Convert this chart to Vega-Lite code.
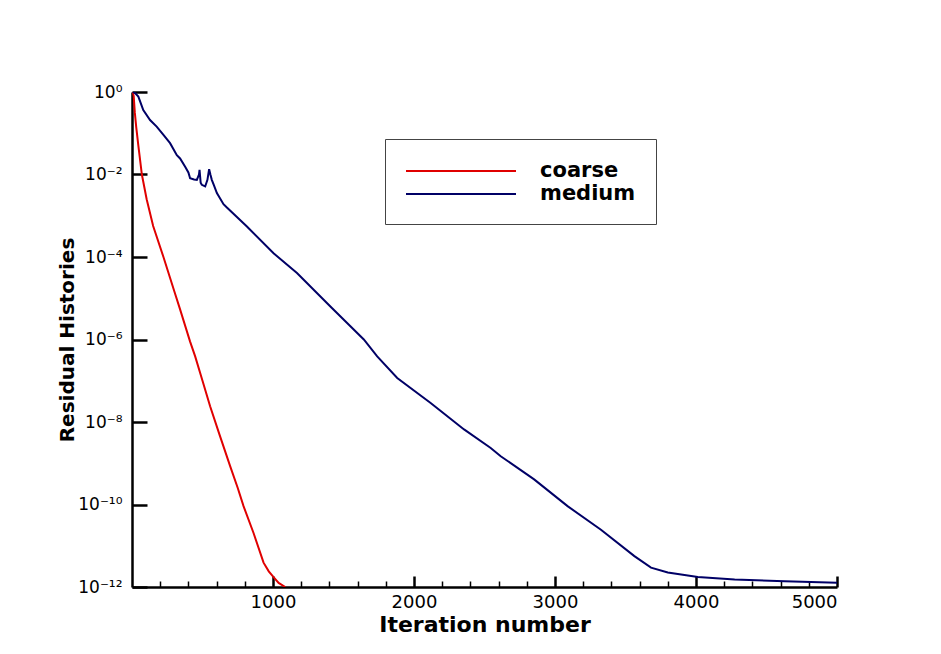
{
  "$schema": "https://vega.github.io/schema/vega-lite/v6.json",
  "width": 705,
  "height": 495,
  "autosize": {"type": "none"},
  "padding": {"left": 132, "top": 92, "right": 104, "bottom": 67},
  "background": "white",
  "config": {"view": {"stroke": null}},
  "data": {"values": [
    {"series": "coarse", "iter": 5, "res": 1},
    {"series": "coarse", "iter": 12, "res": 0.794},
    {"series": "coarse", "iter": 20, "res": 0.316},
    {"series": "coarse", "iter": 30, "res": 0.141},
    {"series": "coarse", "iter": 45, "res": 0.0501},
    {"series": "coarse", "iter": 70, "res": 0.01},
    {"series": "coarse", "iter": 104, "res": 2.51e-3},
    {"series": "coarse", "iter": 150, "res": 5.62e-4},
    {"series": "coarse", "iter": 223, "res": 1e-4},
    {"series": "coarse", "iter": 300, "res": 1.48e-5},
    {"series": "coarse", "iter": 341, "res": 5.37e-6},
    {"series": "coarse", "iter": 412, "res": 8.91e-7},
    {"series": "coarse", "iter": 448, "res": 3.89e-7},
    {"series": "coarse", "iter": 500, "res": 1e-7},
    {"series": "coarse", "iter": 554, "res": 2.40e-8},
    {"series": "coarse", "iter": 620, "res": 5.01e-9},
    {"series": "coarse", "iter": 696, "res": 8.51e-10},
    {"series": "coarse", "iter": 750, "res": 2.51e-10},
    {"series": "coarse", "iter": 791, "res": 9.12e-11},
    {"series": "coarse", "iter": 862, "res": 2.04e-11},
    {"series": "coarse", "iter": 933, "res": 3.89e-12},
    {"series": "coarse", "iter": 970, "res": 2.40e-12},
    {"series": "coarse", "iter": 1004, "res": 1.74e-12},
    {"series": "coarse", "iter": 1040, "res": 1.26e-12},
    {"series": "coarse", "iter": 1087, "res": 1e-12},
    {"series": "medium", "iter": 5, "res": 1},
    {"series": "medium", "iter": 20, "res": 0.955},
    {"series": "medium", "iter": 45, "res": 0.776},
    {"series": "medium", "iter": 80, "res": 0.363},
    {"series": "medium", "iter": 128, "res": 0.209},
    {"series": "medium", "iter": 175, "res": 0.145},
    {"series": "medium", "iter": 223, "res": 0.0912},
    {"series": "medium", "iter": 270, "res": 0.0575},
    {"series": "medium", "iter": 318, "res": 0.0295},
    {"series": "medium", "iter": 341, "res": 0.0245},
    {"series": "medium", "iter": 377, "res": 0.0155},
    {"series": "medium", "iter": 400, "res": 0.0112},
    {"series": "medium", "iter": 412, "res": 8.13e-3},
    {"series": "medium", "iter": 440, "res": 7.59e-3},
    {"series": "medium", "iter": 460, "res": 7.41e-3},
    {"series": "medium", "iter": 475, "res": 0.01},
    {"series": "medium", "iter": 479, "res": 0.0129},
    {"series": "medium", "iter": 487, "res": 6.31e-3},
    {"series": "medium", "iter": 495, "res": 5.62e-3},
    {"series": "medium", "iter": 519, "res": 5.13e-3},
    {"series": "medium", "iter": 535, "res": 7.41e-3},
    {"series": "medium", "iter": 547, "res": 0.0135},
    {"series": "medium", "iter": 556, "res": 0.01},
    {"series": "medium", "iter": 566, "res": 7.41e-3},
    {"series": "medium", "iter": 580, "res": 5.62e-3},
    {"series": "medium", "iter": 602, "res": 3.55e-3},
    {"series": "medium", "iter": 649, "res": 1.91e-3},
    {"series": "medium", "iter": 673, "res": 1.58e-3},
    {"series": "medium", "iter": 815, "res": 5.50e-4},
    {"series": "medium", "iter": 1004, "res": 1.23e-4},
    {"series": "medium", "iter": 1170, "res": 4.07e-5},
    {"series": "medium", "iter": 1384, "res": 7.59e-6},
    {"series": "medium", "iter": 1407, "res": 6.31e-6},
    {"series": "medium", "iter": 1549, "res": 2.09e-6},
    {"series": "medium", "iter": 1644, "res": 1e-6},
    {"series": "medium", "iter": 1739, "res": 3.89e-7},
    {"series": "medium", "iter": 1881, "res": 1.17e-7},
    {"series": "medium", "iter": 2118, "res": 2.88e-8},
    {"series": "medium", "iter": 2355, "res": 6.61e-9},
    {"series": "medium", "iter": 2544, "res": 2.34e-9},
    {"series": "medium", "iter": 2615, "res": 1.48e-9},
    {"series": "medium", "iter": 2852, "res": 4.07e-10},
    {"series": "medium", "iter": 3089, "res": 9.12e-11},
    {"series": "medium", "iter": 3326, "res": 2.45e-11},
    {"series": "medium", "iter": 3563, "res": 5.62e-12},
    {"series": "medium", "iter": 3681, "res": 2.95e-12},
    {"series": "medium", "iter": 3800, "res": 2.24e-12},
    {"series": "medium", "iter": 4013, "res": 1.74e-12},
    {"series": "medium", "iter": 4274, "res": 1.51e-12},
    {"series": "medium", "iter": 4629, "res": 1.38e-12},
    {"series": "medium", "iter": 5000, "res": 1.26e-12}
  ]},
  "resolve": {"axis": {"x": "independent"}},
  "layer": [
    {
      "mark": {"type": "point", "opacity": 0},
      "encoding": {
        "x": {"field": "iter", "type": "quantitative",
              "scale": {"domain": [0, 5000], "nice": false},
              "axis": {"orient": "bottom", "values": [200,400,600,800,1200,1400,1600,1800,2200,2400,2600,2800,3200,3400,3600,3800,4200,4400,4600,4800],
                       "labels": false, "title": null, "grid": false, "domain": false,
                       "tickColor": "black", "tickWidth": 1.5, "tickSize": -6}},
        "y": {"field": "res", "type": "quantitative",
              "scale": {"type": "log", "domain": [1e-12, 1], "nice": false}}
      }
    },
    {
      "mark": {"type": "line", "strokeWidth": 2, "clip": true},
      "encoding": {
        "x": {"field": "iter", "type": "quantitative",
              "scale": {"domain": [0, 5000], "nice": false},
              "axis": {"orient": "bottom", "values": [1000, 2000, 3000, 4000, 5000], "grid": false, "format": "d",
                       "domainColor": "black", "domainWidth": 2.5,
                       "tickColor": "black", "tickWidth": 2.5, "tickSize": -11,
                       "labelFont": "DejaVu Sans", "labelFontSize": 18, "labelColor": "black", "labelPadding": 17,
                       "title": "Iteration number", "titleFont": "DejaVu Sans", "titleFontWeight": "bold",
                       "titleFontSize": 22, "titleColor": "black", "titlePadding": 3}},
        "y": {"field": "res", "type": "quantitative",
              "scale": {"type": "log", "domain": [1e-12, 1], "nice": false},
              "axis": {"values": [1, 1e-2, 1e-4, 1e-6, 1e-8, 1e-10, 1e-12], "grid": false,
                       "labelExpr": "['10⁰','10⁻²','10⁻⁴','10⁻⁶','10⁻⁸','10⁻¹⁰','10⁻¹²'][round(-log(datum.value)/LN10/2)]",
                       "domainColor": "black", "domainWidth": 2.5,
                       "tickColor": "black", "tickWidth": 2.5, "tickSize": -15,
                       "labelFont": "DejaVu Sans", "labelFontSize": 17, "labelColor": "black", "labelPadding": 25,
                       "title": "Residual Histories", "titleFont": "DejaVu Sans", "titleFontWeight": "bold",
                       "titleFontSize": 20, "titleColor": "black", "titlePadding": 0}},
        "color": {"field": "series", "type": "nominal",
                  "scale": {"domain": ["coarse", "medium"], "range": ["#e00000", "#000066"]},
                  "legend": {"orient": "none", "legendX": 253, "legendY": 47, "title": null,
                             "strokeColor": "#444444", "fillColor": "white",
                             "padding": 20, "symbolType": "M-1,0H9", "symbolSize": 484, "symbolStrokeWidth": 2,
                             "labelFont": "DejaVu Sans", "labelFontWeight": "bold", "labelFontSize": 21,
                             "labelColor": "black", "labelOffset": 111, "rowPadding": 1}}
      }
    }
  ]
}
